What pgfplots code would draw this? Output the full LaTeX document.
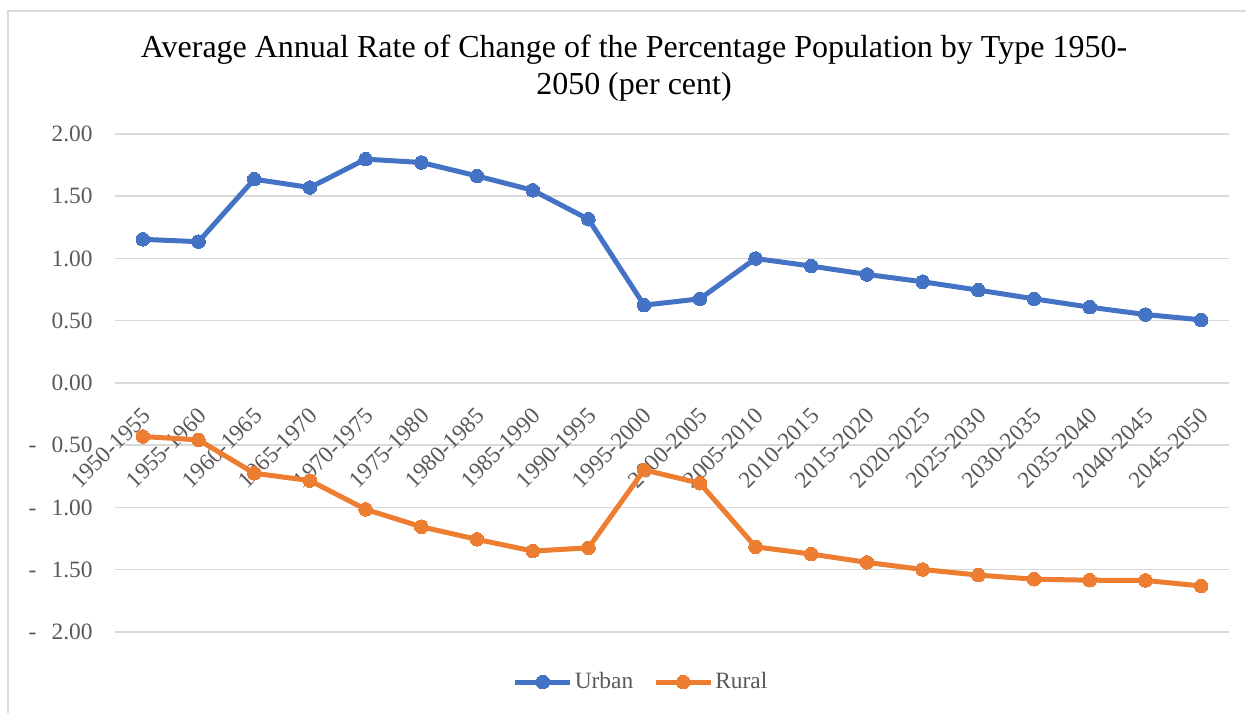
\documentclass[border=0pt]{standalone}
\usepackage{pgfplots}
\pgfplotsset{compat=1.18}
\usepackage{fontspec}
\setmainfont{Liberation Serif}

\definecolor{urban}{HTML}{4472C4}
\definecolor{rural}{HTML}{ED7D31}
\definecolor{gridgray}{HTML}{D9D9D9}
\definecolor{ticktext}{HTML}{595959}

\begin{document}
\begin{tikzpicture}
    % picture is 623bp x 356.5bp (half a pixel per bp)
    \useasboundingbox (0,0) rectangle (623bp,356.5bp);
    \draw[gridgray, line width=0.8bp] (4bp,-5bp) |- (640bp,351bp);

    \node[align=center, font=\fontsize{16bp}{18.5bp}\selectfont] at (317bp,322.25bp)
        {Average Annual Rate of Change of the Percentage Population by Type 1950-\\2050 (per cent)};

    \begin{axis}[
        at={(57.5bp,40.5bp)}, anchor=south west,
        scale only axis,
        width=557bp, height=249bp,
        xmin=-0.5, xmax=19.5,
        ymin=-2, ymax=2,
        axis x line=middle, axis y line=left,
        axis line style={draw=none},
        major tick length=0pt,
        ymajorgrids,
        grid style={gridgray, line width=0.75bp},
        xtick={0,...,19},
        xticklabels={1950-1955,1955-1960,1960-1965,1965-1970,1970-1975,1975-1980,1980-1985,1985-1990,1990-1995,1995-2000,2000-2005,2005-2010,2010-2015,2015-2020,2020-2025,2025-2030,2030-2035,2035-2040,2040-2045,2045-2050},
        ytick={-2,-1.5,-1,-0.5,0,0.5,1,1.5,2},
        yticklabels={-\hspace{7.6bp}2.00,-\hspace{7.6bp}1.50,-\hspace{7.6bp}1.00,-\hspace{7.6bp}0.50,0.00,0.50,1.00,1.50,2.00},
        tick label style={font=\fontsize{11.7bp}{14bp}\selectfont, text=ticktext},
        x tick label style={rotate=45, anchor=north east, inner sep=1bp, xshift=-7.8bp, yshift=-6.4bp},
        y tick label style={anchor=east, inner sep=0pt, xshift=-11bp},
        legend columns=2,
        legend style={at={(0.4722,-0.1004)}, anchor=center, draw=none,
            font=\fontsize{11.7bp}{14bp}\selectfont, text=ticktext,
            nodes={inner xsep=1bp},
            /tikz/every even column/.append style={column sep=9bp}},
        legend image code/.code={\draw[mark repeat=2,mark phase=2] plot coordinates {(0bp,0bp) (13.75bp,0bp) (27.5bp,0bp)};},
        every axis plot/.append style={line width=2.5bp, mark=*, mark size=3.4bp},
    ]
    \addplot[urban, mark options={fill=urban, line width=0pt}] coordinates {
        (0,1.154) (1,1.135) (2,1.637) (3,1.570) (4,1.798)
        (5,1.771) (6,1.663) (7,1.548) (8,1.315) (9,0.625)
        (10,0.676) (11,1.000) (12,0.939) (13,0.872) (14,0.813)
        (15,0.746) (16,0.676) (17,0.609) (18,0.550) (19,0.507)
    };
    \addlegendentry{Urban}
    \addplot[rural, mark options={fill=rural, line width=0pt}] coordinates {
        (0,-0.430) (1,-0.457) (2,-0.725) (3,-0.784) (4,-1.015)
        (5,-1.155) (6,-1.256) (7,-1.350) (8,-1.324) (9,-0.698)
        (10,-0.805) (11,-1.316) (12,-1.374) (13,-1.441) (14,-1.498)
        (15,-1.543) (16,-1.576) (17,-1.584) (18,-1.586) (19,-1.630)
    };
    \addlegendentry{Rural}
    \end{axis}
\end{tikzpicture}
\end{document}
